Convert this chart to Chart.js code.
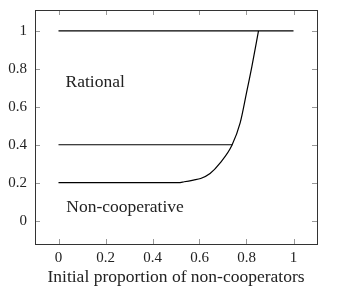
<!DOCTYPE html>
<html>
<head>
<meta charset="utf-8">
<script src="https://cdn.jsdelivr.net/npm/chart.js@4/dist/chart.umd.min.js"></script>
<style>
  html, body { margin: 0; padding: 0; background: #fff; }
  #wrap { width: 347px; height: 294px; }
</style>
</head>
<body>
<div id="wrap"><canvas id="c" width="347" height="294"></canvas></div>
<script>
// values
const rationalLine = [{x: 0, y: 1}, {x: 1, y: 1}];
const middleLine = [{x: 0, y: 0.4}, {x: 0.74, y: 0.4}];
const boundaryX = [0, 0.51, 0.535, 0.574, 0.605, 0.645, 0.688, 0.738, 0.773, 0.80, 0.823, 0.851];
const boundaryY = [0.2, 0.2, 0.205, 0.214, 0.222, 0.248, 0.304, 0.397, 0.515, 0.673, 0.813, 1.0];
const xTicks = [0, 0.2, 0.4, 0.6, 0.8, 1];
const yTicks = [0, 0.2, 0.4, 0.6, 0.8, 1];
const regionLabels = [
    {text: 'Rational', x: 0.03, y: 0.705},
    {text: 'Non-cooperative', x: 0.033, y: 0.046}
];

const serif = '"Liberation Serif", "DejaVu Serif", serif';
const boundary = boundaryX.map((x, i) => ({x: x, y: boundaryY[i]}));

// pgfplots style box with inward ticks, plus the region labels
const boxPlugin = {
    id: 'box',
    afterDatasetsDraw(chart) {
        const {ctx, chartArea: a, scales} = chart;
        ctx.save();
        ctx.strokeStyle = '#999';
        ctx.lineWidth = 1;
        const len = 5;
        xTicks.forEach(v => {
            const px = Math.round(scales.x.getPixelForValue(v)) + 0.5;
            ctx.beginPath();
            ctx.moveTo(px, a.bottom); ctx.lineTo(px, a.bottom - len);
            ctx.moveTo(px, a.top); ctx.lineTo(px, a.top + len);
            ctx.stroke();
        });
        yTicks.forEach(v => {
            const py = Math.round(scales.y.getPixelForValue(v)) + 0.5;
            ctx.beginPath();
            ctx.moveTo(a.left, py); ctx.lineTo(a.left + len, py);
            ctx.moveTo(a.right, py); ctx.lineTo(a.right - len, py);
            ctx.stroke();
        });
        ctx.strokeStyle = '#333';
        ctx.strokeRect(Math.round(a.left) + 0.5, Math.round(a.top) + 0.5,
            Math.round(a.right - a.left), Math.round(a.bottom - a.top));

        ctx.fillStyle = '#222';
        ctx.font = '17.5px ' + serif;
        ctx.textAlign = 'left';
        ctx.textBaseline = 'alphabetic';
        regionLabels.forEach(l => {
            ctx.fillText(l.text, scales.x.getPixelForValue(l.x), scales.y.getPixelForValue(l.y));
        });
        ctx.restore();
    }
};

const lineStyle = {
    borderColor: '#000',
    borderWidth: 1.2,
    pointRadius: 0,
    fill: false
};

new Chart(document.getElementById('c'), {
    type: 'line',
    data: {
        datasets: [
            Object.assign({label: 'Rational', data: rationalLine, tension: 0}, lineStyle),
            Object.assign({label: 'Middle', data: middleLine, tension: 0}, lineStyle),
            Object.assign({label: 'Boundary', data: boundary, cubicInterpolationMode: 'monotone'}, lineStyle)
        ]
    },
    options: {
        responsive: false,
        animation: false,
        layout: { padding: { top: 10, right: 30, left: 0, bottom: 0 } },
        plugins: {
            legend: { display: false },
            tooltip: { enabled: false }
        },
        scales: {
            x: {
                type: 'linear',
                min: -0.1,
                max: 1.1,
                grid: { display: false, drawTicks: false },
                border: { display: false },
                afterFit(scale) {
                    scale.height = 50;
                    scale.paddingLeft = 0;
                    scale.paddingRight = 0;
                },
                afterBuildTicks(scale) { scale.ticks = xTicks.map(v => ({value: v})); },
                ticks: {
                    color: '#222',
                    padding: 5,
                    font: { family: serif, size: 15 },
                    callback: v => String(+v.toFixed(1))
                },
                title: {
                    display: true,
                    text: 'Initial proportion of non-cooperators',
                    color: '#222',
                    font: { family: serif, size: 17.5 },
                    padding: { top: 0, bottom: 6 }
                }
            },
            y: {
                type: 'linear',
                min: -0.123,
                max: 1.11,
                grid: { display: false, drawTicks: false },
                border: { display: false },
                afterFit(scale) {
                    scale.width = 35;
                    scale.paddingTop = 0;
                    scale.paddingBottom = 0;
                },
                afterBuildTicks(scale) { scale.ticks = yTicks.map(v => ({value: v})); },
                ticks: {
                    color: '#222',
                    padding: 8,
                    font: { family: serif, size: 15 },
                    callback: v => String(+v.toFixed(1))
                }
            }
        }
    },
    plugins: [boxPlugin]
});
</script>
</body>
</html>
